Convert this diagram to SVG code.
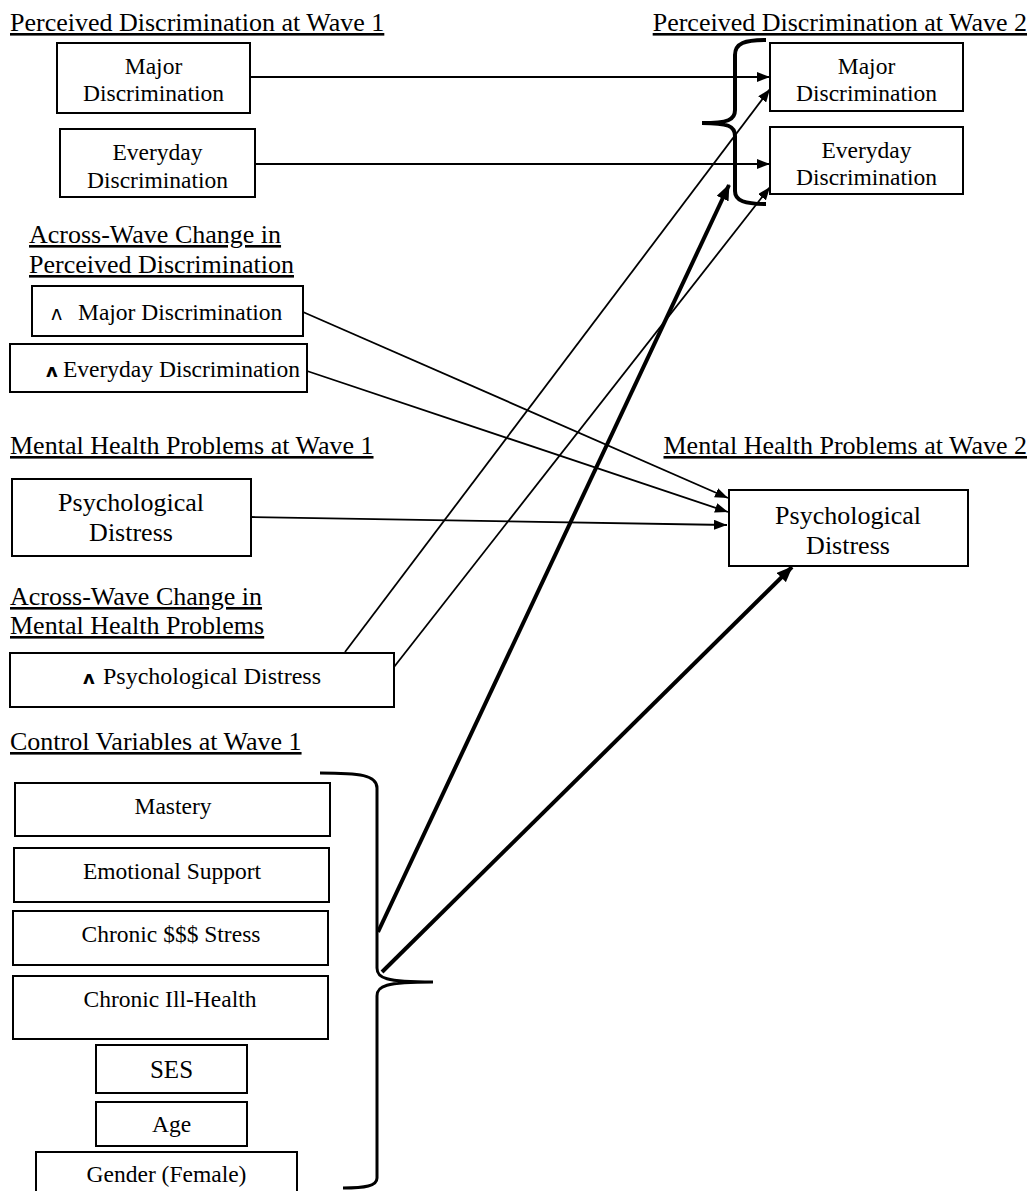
<svg xmlns="http://www.w3.org/2000/svg" width="1031" height="1191" viewBox="0 0 1031 1191">
<style>
text{font-family:"Liberation Serif","Times New Roman",serif;fill:#000}
.h{font-size:26px;text-decoration:underline}
.t{font-size:23.5px;text-anchor:middle}
.tb{font-size:26px;text-anchor:middle}
.car{font-family:"DejaVu Sans",sans-serif;font-weight:bold;font-size:18px}
.carl{font-family:"DejaVu Sans",sans-serif;font-size:19px}
.box{fill:#fff;stroke:#000;stroke-width:2}
.c{stroke:#000;stroke-width:1.8;fill:none}
.k{stroke:#000;stroke-width:4;fill:none}
.br{stroke:#000;fill:none;stroke-linecap:butt}
</style>
<defs>
<marker id="a" markerUnits="userSpaceOnUse" markerWidth="13" markerHeight="10" refX="13" refY="5" orient="auto"><path d="M0,0 L13,5 L0,10 z" fill="#000"/></marker>
<marker id="ak" markerUnits="userSpaceOnUse" markerWidth="16" markerHeight="13" refX="15" refY="6.5" orient="auto"><path d="M0,0 L16,6.5 L0,13 z" fill="#000"/></marker>
</defs>

<g id="titles">
<text class="h" x="10" y="31">Perceived Discrimination at Wave 1</text>
<text class="h" x="1027" y="31" text-anchor="end">Perceived Discrimination at Wave 2</text>
<text class="h" x="29" y="243">Across-Wave Change in</text>
<text class="h" x="29" y="273">Perceived Discrimination</text>
<text class="h" x="10" y="454">Mental Health Problems at Wave 1</text>
<text class="h" x="1027" y="454" text-anchor="end">Mental Health Problems at Wave 2</text>
<text class="h" x="10" y="605">Across-Wave Change in</text>
<text class="h" x="10" y="634">Mental Health Problems</text>
<text class="h" x="10" y="750">Control Variables at Wave 1</text>
</g>

<g id="connectors">
<line class="c" x1="250" y1="77" x2="770" y2="77" marker-end="url(#a)"/>
<line class="c" x1="255" y1="164" x2="770" y2="164" marker-end="url(#a)"/>
<line class="c" x1="303" y1="312" x2="728" y2="498" marker-end="url(#a)"/>
<line class="c" x1="307" y1="371" x2="728" y2="512" marker-end="url(#a)"/>
<line class="c" x1="251" y1="517" x2="727" y2="525" marker-end="url(#a)"/>
<line class="c" x1="345" y1="652" x2="770" y2="89" marker-end="url(#a)"/>
<line class="c" x1="394" y1="667" x2="770" y2="187" marker-end="url(#a)"/>
<line class="k" x1="378" y1="932" x2="729" y2="185" marker-end="url(#ak)"/>
<line class="k" x1="382" y1="972" x2="792" y2="567" marker-end="url(#ak)"/>
</g>

<g id="brace-wave2">
<path class="br" stroke-width="4" d="M766,40 C745,40 735,43 735,55 L735,110 C735,120 728,123 702,123 C728,123 735,126 735,136 L735,191 C735,201 745,204 766,204"/>
</g>
<g id="brace-controls">
<path class="br" stroke-width="3" d="M320,773 C360,773 377,775 377,788 L377,968 C377,978 385,982 433,982 C385,982 377,986 377,996 L377,1178 C377,1186 365,1188 343,1188"/>
</g>

<g id="n-major-w1">
<rect class="box" x="57" y="43" width="193" height="70"/>
<text class="t" x="153.5" y="74">Major</text>
<text class="t" x="153.5" y="101">Discrimination</text>
</g>
<g id="n-everyday-w1">
<rect class="box" x="60" y="129" width="195" height="68"/>
<text class="t" x="157.5" y="160">Everyday</text>
<text class="t" x="157.5" y="188">Discrimination</text>
</g>
<g id="n-major-w2">
<rect class="box" x="770" y="43" width="193" height="68"/>
<text class="t" x="866.5" y="74">Major</text>
<text class="t" x="866.5" y="101">Discrimination</text>
</g>
<g id="n-everyday-w2">
<rect class="box" x="770" y="127" width="193" height="67"/>
<text class="t" x="866.5" y="158">Everyday</text>
<text class="t" x="866.5" y="185">Discrimination</text>
</g>
<g id="n-dmajor">
<rect class="box" x="32" y="286" width="271" height="50"/>
<text x="51" y="320" style="font-size:23.5px"><tspan class="carl">ʌ</tspan><tspan x="78">Major Discrimination</tspan></text>
</g>
<g id="n-deveryday">
<rect class="box" x="10" y="344" width="297" height="48"/>
<text x="46" y="377" style="font-size:23.5px"><tspan class="car">ʌ</tspan><tspan x="63">Everyday Discrimination</tspan></text>
</g>
<g id="n-psych-w1">
<rect class="box" x="12" y="479" width="239" height="77"/>
<text class="tb" x="131" y="511">Psychological</text>
<text class="tb" x="131" y="541">Distress</text>
</g>
<g id="n-psych-w2">
<rect class="box" x="729" y="490" width="239" height="76"/>
<text class="tb" x="848" y="524">Psychological</text>
<text class="tb" x="848" y="554">Distress</text>
</g>
<g id="n-dpsych">
<rect class="box" x="10" y="653" width="384" height="54"/>
<text x="83" y="684" style="font-size:24px"><tspan class="car">ʌ</tspan><tspan x="103">Psychological Distress</tspan></text>
</g>
<g id="n-mastery">
<rect class="box" x="15" y="783" width="315" height="53"/>
<text class="t" x="173" y="814">Mastery</text>
</g>
<g id="n-emotional">
<rect class="box" x="14" y="848" width="315" height="54"/>
<text class="t" x="172" y="879">Emotional Support</text>
</g>
<g id="n-chronic-stress">
<rect class="box" x="13" y="911" width="315" height="54"/>
<text class="t" x="171" y="942">Chronic $$$ Stress</text>
</g>
<g id="n-chronic-ill">
<rect class="box" x="13" y="976" width="315" height="63"/>
<text class="t" x="170" y="1007">Chronic Ill-Health</text>
</g>
<g id="n-ses">
<rect class="box" x="96" y="1045" width="151" height="48"/>
<text class="t" x="171.5" y="1078" style="font-size:25px">SES</text>
</g>
<g id="n-age">
<rect class="box" x="96" y="1102" width="151" height="44"/>
<text class="t" x="171.5" y="1132">Age</text>
</g>
<g id="n-gender">
<rect class="box" x="36" y="1152" width="261" height="45"/>
<text class="t" x="166.5" y="1182">Gender (Female)</text>
</g>
</svg>
